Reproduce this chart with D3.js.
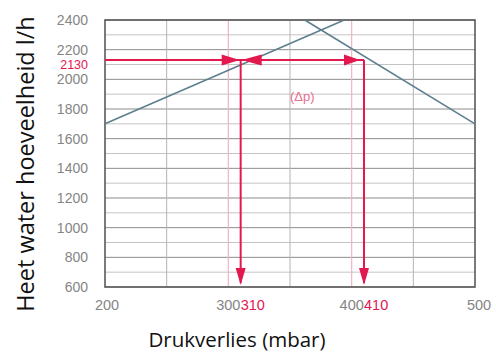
<!DOCTYPE html>
<html>
<head>
<meta charset="utf-8">
<script src="https://cdn.jsdelivr.net/npm/d3@7"></script>
<style>
  html, body { margin: 0; padding: 0; background: #fff; }
  svg { display: block; }
</style>
</head>
<body>
<svg id="chart" width="496" height="352"></svg>
<script>
// Pressure drop (mbar) against hot-water flow (l/h)
const xTicks = [200, 300, 400, 500];
const xGrid = [250, 300, 350, 400, 450];
const xHighlightGrid = [300, 400];
const yTicks = [600, 800, 1000, 1200, 1400, 1600, 1800, 2000, 2200, 2400];
const yMinorGrid = [700, 900, 1100, 1300, 1500, 1700, 1900, 2100, 2300];

// The two characteristic lines
const risingX = [200, 394];
const risingY = [1700, 2400];
const fallingX = [362, 500];
const fallingY = [2400, 1700];

// Operating point read-off
const flowMark = 2130;
const dropMarks = [310, 410];
const deltaLabel = "(Δp)";
const deltaLabelAt = [360, 1885];

const xTitle = "Drukverlies (mbar)";
const yTitle = "Heet water hoeveelheid l/h";

const red = "#e2184f";
const lineColor = "#5d7f8f";
const tickFont = "'Liberation Sans', Arial, sans-serif";

const svg = d3.select("#chart");
const x = d3.scaleLinear().domain([200, 500]).range([105, 475]);
const y = d3.scaleLinear().domain([600, 2400]).range([287, 20]);

const [x0, x1] = x.range();
const [y0, y1] = y.range();

// grid
const grid = svg.append("g");
grid.selectAll(".hmin").data(yMinorGrid).join("line")
  .attr("x1", x0).attr("x2", x1)
  .attr("y1", d => y(d)).attr("y2", d => y(d))
  .attr("stroke", "#c4c4c4").attr("stroke-width", 1);
grid.selectAll(".hmaj").data(yTicks).join("line")
  .attr("x1", x0).attr("x2", x1)
  .attr("y1", d => y(d)).attr("y2", d => y(d))
  .attr("stroke", "#8c8c8c").attr("stroke-width", 1);
grid.selectAll(".v").data(xGrid.filter(d => !xHighlightGrid.includes(d))).join("line")
  .attr("x1", d => x(d)).attr("x2", d => x(d))
  .attr("y1", y0).attr("y2", y1)
  .attr("stroke", "#b4b4b4").attr("stroke-width", 1);
grid.selectAll(".vh").data(xHighlightGrid).join("line")
  .attr("x1", d => x(d)).attr("x2", d => x(d))
  .attr("y1", y0).attr("y2", y1)
  .attr("stroke", "#f2b3c4").attr("stroke-width", 1.2);

// frame
svg.append("rect")
  .attr("x", x0).attr("y", y1)
  .attr("width", x1 - x0).attr("height", y0 - y1)
  .attr("fill", "none").attr("stroke", "#5a5a5a").attr("stroke-width", 1.6);

// characteristic lines
const line = d3.line().x(d => x(d[0])).y(d => y(d[1]));
svg.append("path")
  .attr("d", line(d3.zip(risingX, risingY)))
  .attr("fill", "none").attr("stroke", lineColor).attr("stroke-width", 1.6);
svg.append("path")
  .attr("d", line(d3.zip(fallingX, fallingY)))
  .attr("fill", "none").attr("stroke", lineColor).attr("stroke-width", 1.6);

// arrow helpers
function arrowHead(tipX, tipY, dir, len, half) {
  let pts;
  if (dir === "r") pts = [[tipX, tipY], [tipX - len, tipY - half], [tipX - len, tipY + half]];
  else if (dir === "l") pts = [[tipX, tipY], [tipX + len, tipY - half], [tipX + len, tipY + half]];
  else pts = [[tipX, tipY], [tipX - half, tipY - len], [tipX + half, tipY - len]];
  svg.append("path")
    .attr("d", "M" + pts.map(p => p.join(",")).join("L") + "Z")
    .attr("fill", red);
}

const yM = y(flowMark);
const xA = x(dropMarks[0]);
const xB = x(dropMarks[1]);

// horizontal read-off line
svg.append("line")
  .attr("x1", x0).attr("x2", xB)
  .attr("y1", yM).attr("y2", yM)
  .attr("stroke", red).attr("stroke-width", 2);
arrowHead(xA - 1, yM, "r", 18, 5.5);
arrowHead(xA + 1, yM, "l", 20, 5.5);
arrowHead(xB - 4, yM, "r", 16, 5.5);

// vertical read-off lines
dropMarks.forEach(v => {
  svg.append("line")
    .attr("x1", x(v)).attr("x2", x(v))
    .attr("y1", yM).attr("y2", y0 - 4)
    .attr("stroke", red).attr("stroke-width", 2);
  arrowHead(x(v), y0 - 2, "d", 17, 5);
});

// Δp label
svg.append("text")
  .attr("x", x(deltaLabelAt[0])).attr("y", y(deltaLabelAt[1]))
  .attr("text-anchor", "middle").attr("dominant-baseline", "central")
  .attr("font-family", tickFont).attr("font-size", 13)
  .attr("fill", "#e8708f")
  .text(deltaLabel);

// y tick labels
svg.selectAll(".ytl").data(yTicks).join("text")
  .attr("x", 88).attr("y", d => y(d))
  .attr("text-anchor", "end").attr("dominant-baseline", "central")
  .attr("font-family", tickFont).attr("font-size", 14)
  .attr("fill", "#858585")
  .text(d => d);
svg.append("text")
  .attr("x", 88).attr("y", yM + 4.5)
  .attr("text-anchor", "end").attr("dominant-baseline", "central")
  .attr("font-family", tickFont).attr("font-size", 12.5)
  .attr("fill", red)
  .text(flowMark);

// x tick labels
svg.selectAll(".xtl").data(xTicks).join("text")
  .attr("x", d => x(d) + (d === 500 ? 4 : (d === 200 ? 2 : 0))).attr("y", 310)
  .attr("text-anchor", "middle")
  .attr("font-family", tickFont).attr("font-size", 14.5)
  .attr("fill", "#858585")
  .text(d => d);
svg.selectAll(".xml").data(dropMarks).join("text")
  .attr("x", d => x(d)).attr("y", 310)
  .attr("text-anchor", "start")
  .attr("font-family", tickFont).attr("font-size", 14.5)
  .attr("fill", red)
  .text(d => d);

// axis titles
svg.append("text")
  .attr("transform", "translate(34,164) rotate(-90)")
  .attr("text-anchor", "middle")
  .attr("font-family", "'Open Sans', sans-serif").attr("font-size", 23.5)
  .attr("fill", "#111")
  .text(yTitle);
svg.append("text")
  .attr("x", 237).attr("y", 347)
  .attr("text-anchor", "middle")
  .attr("font-family", "'Open Sans', sans-serif").attr("font-size", 20.5)
  .attr("fill", "#111")
  .text(xTitle);
</script>
</body>
</html>
